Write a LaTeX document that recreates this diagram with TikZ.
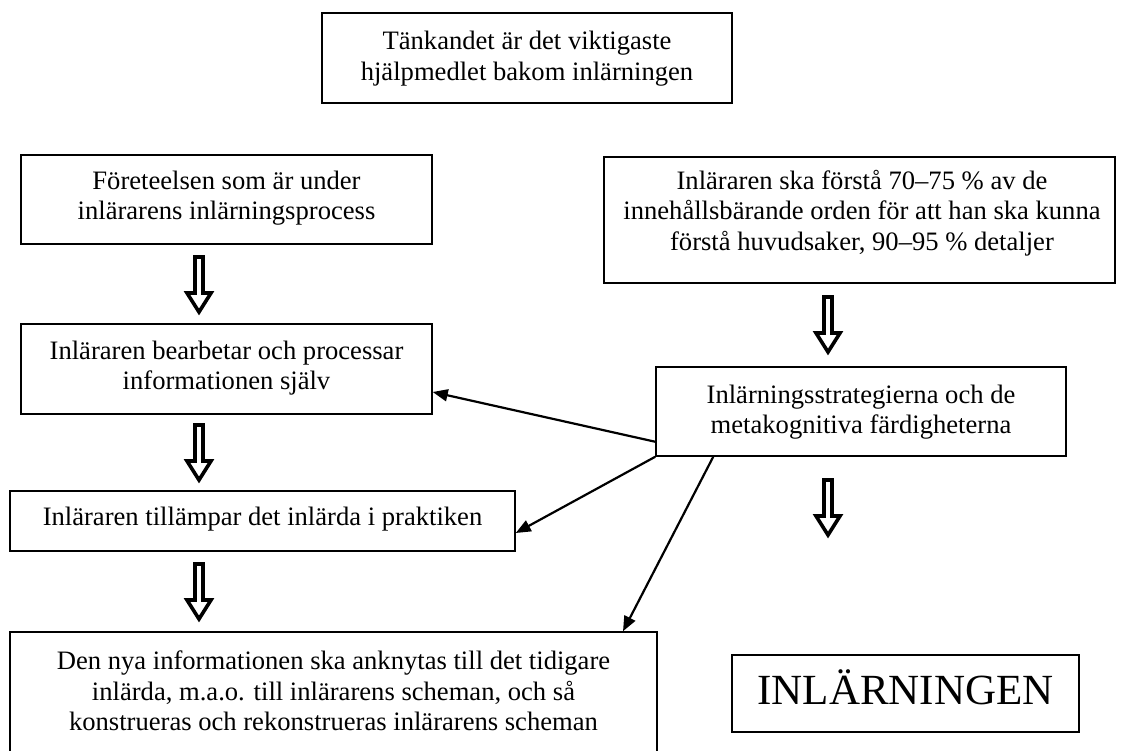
\documentclass[tikz,border=0pt]{standalone}
\usepackage{fontspec}
\setmainfont{Liberation Serif}
\usetikzlibrary{arrows.meta}
\begin{document}
\begin{tikzpicture}[x=1pt,y=-1pt,
  box/.style={draw, line width=1.5pt, inner sep=0pt},
  txt/.style={align=center, font=\fontsize{26.6}{30.6}\selectfont, inner sep=0pt},
  bigtxt/.style={font=\fontsize{43}{50}\selectfont, inner sep=0pt},
  conn/.style={line width=2.2pt, -{Triangle[length=15pt,width=12pt]}},
  hollow/.pic={\draw[line width=3.6pt, fill=white, line join=miter, miter limit=10]
     (-4,2) -- (-4,38) -- (-12,38) -- (0,57) -- (12,38) -- (4,38) -- (4,2) -- cycle;}
]
\clip (0,0) rectangle (1131,751);

% boxes
\node[box, minimum width=410pt, minimum height=90pt] (top) at (527,58) {};
\node[txt] (topT) at (527,58.5) {Tänkandet är det viktigaste\\hjälpmedlet bakom inlärningen};

\node[box, minimum width=411pt, minimum height=89pt] (fore) at (226.5,199.5) {};
\node[txt] (foreT) at (226.5,198) {Företeelsen som är under\\inlärarens inlärningsprocess};

\node[box, minimum width=511pt, minimum height=126pt] (right) at (859.5,220) {};
\node[txt] (rightT) at (862,213) {Inläraren ska förstå 70–75 \% av de\\innehållsbärande orden för att han ska kunna\\förstå huvudsaker, 90–95 \% detaljer};

\node[box, minimum width=411pt, minimum height=90pt] (bear) at (226.5,369) {};
\node[txt] (bearT) at (226.5,368) {Inläraren bearbetar och processar\\informationen själv};

\node[box, minimum width=410pt, minimum height=89pt] (strat) at (861,411.5) {};
\node[txt] (stratT) at (861,412) {Inlärningsstrategierna och de\\metakognitiva färdigheterna};

\node[box, minimum width=505pt, minimum height=60pt] (till) at (262.5,521) {};
\node[txt] (tillT) at (262.5,518.8) {Inläraren tillämpar det inlärda i praktiken};

\node[box, minimum width=647pt, minimum height=140pt] (bot) at (333.5,702) {};
\node[txt] (botT) at (333.5,691) {Den nya informationen ska anknytas till det tidigare\\inlärda, m.a.o. till inlärarens scheman, och så\\konstrueras och rekonstrueras inlärarens scheman};

\node[box, minimum width=347pt, minimum height=77pt] (inl) at (905.5,693.5) {};
\node[bigtxt] (inlT) at (905.5,687.5) {INLÄRNINGEN};

% hollow arrows
\pic at (199,255) {hollow};
\pic at (199,423) {hollow};
\pic at (199,562) {hollow};
\pic at (828,295) {hollow};
\pic at (828,478) {hollow};

% connectors
\draw[conn] ([yshift=15pt]strat.south west) -- ([yshift=-23pt]bear.east);
\draw[conn] (strat.south west) -- ([yshift=-12pt]till.east);
\draw[conn] ([xshift=58pt]strat.south west) -- ([xshift=289.5pt]bot.north);
\end{tikzpicture}
\end{document}
